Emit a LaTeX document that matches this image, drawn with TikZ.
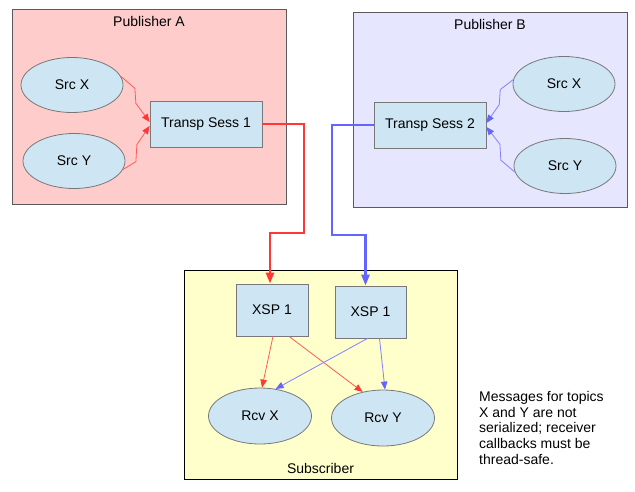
\documentclass[tikz,border=0pt]{standalone}
\usepackage{fontspec}
\setmainfont{Liberation Sans}
\usetikzlibrary{arrows.meta,shapes.geometric}
\definecolor{pubA}{RGB}{255,204,204}
\definecolor{pubB}{RGB}{230,230,255}
\definecolor{subfill}{RGB}{255,255,204}
\definecolor{nodefill}{RGB}{206,230,243}
\definecolor{edgegray}{RGB}{120,120,120}
\definecolor{grpgray}{RGB}{90,90,90}
\definecolor{lred}{RGB}{255,55,55}
\definecolor{lblue}{RGB}{100,100,255}
\definecolor{tred}{RGB}{255,90,90}
\definecolor{tblue}{RGB}{130,130,255}
\begin{document}
\begin{tikzpicture}[x=1pt,y=-1pt,
  font=\fontsize{14}{16}\selectfont,
  grp/.style={draw=grpgray, line width=1pt, inner sep=0pt},
  srcnode/.style={ellipse, draw=edgegray, fill=nodefill, line width=0.8pt,
    minimum width=102pt, minimum height=55pt, inner sep=0pt},
  boxnode/.style={rectangle, draw=edgegray, fill=nodefill, line width=0.8pt,
    inner sep=0pt},
  thinred/.style={draw=tred, line width=0.8pt, -{Triangle[length=8pt,width=6.5pt,color=lred]}},
  thinblue/.style={draw=tblue, line width=0.8pt, -{Triangle[length=8pt,width=6.5pt,color=lblue]}},
  thickred/.style={draw=lred, line width=2.5pt, -{Triangle[length=11pt,width=8pt]}},
  thickblue/.style={draw=lblue, line width=2.5pt, -{Triangle[length=11pt,width=8pt]}}]
\useasboundingbox (0,0) rectangle (635,491);
\fill[white] (0,0) rectangle (635,491);

% group frames
\node[grp, fill=pubA, minimum width=274pt, minimum height=195pt] (pa) at (149,106.5) {};
\node[grp, fill=pubB, minimum width=274pt, minimum height=195pt] (pb) at (490,109.5) {};
\node[grp, draw=black, fill=subfill, minimum width=273pt, minimum height=209pt] (sub) at (320.5,374.5) {};

\node (pal) at (149,21) {Publisher A};
\node (pbl) at (490,24) {Publisher B};
\node (subl) at (320.5,468) {Subscriber};

% publisher A
\node[srcnode] (sxa) at (72,85) {Src X};
\node[srcnode] (sya) at (74,161) {Src Y};
\node[boxnode, minimum width=112pt, minimum height=46pt] (tsa) at (206,124) {Transp Sess 1};

% publisher B
\node[srcnode] (sxb) at (564,84) {Src X};
\node[srcnode] (syb) at (565,166) {Src Y};
\node[boxnode, minimum width=112pt, minimum height=46pt] (tsb) at (430,125) {Transp Sess 2};

% subscriber
\node[boxnode, minimum width=72pt, minimum height=52pt] (xa) at (272,310) {XSP 1};
\node[boxnode, minimum width=71pt, minimum height=52pt] (xb) at (370.5,312) {XSP 1};
\node[srcnode, minimum width=103pt, minimum height=56pt] (rx) at (260,416) {Rcv X};
\node[srcnode, minimum width=103pt, minimum height=56pt] (ry) at (383,418) {Rcv Y};

% sources into transport sessions
\draw[thinred] (sxa.10) -- ++(14,12) -- ++(1,15) -- ([yshift=2pt]tsa.west);
\draw[thinred] (sya.-10) -- ++(13,-8) -- ++(1,-17) -- ([yshift=-2pt]tsa.west);
\draw[thinblue] (sxb.175) -- ++(-13,10) -- ++(-1,15) -- ([yshift=2pt]tsb.east);
\draw[thinblue] (syb.-173) -- ++(-14,-12) -- ++(-1,-16) -- ([yshift=-2pt]tsb.east);

% transport sessions to subscriber
\coordinate (rturn) at (304,233);
\coordinate (bturn) at (332,235);
\draw[thickred] (tsa.east) -| (rturn) -| ([xshift=-2pt]xa.north);
\draw[thickblue] (tsb.west) -| (bturn) -| ([xshift=-5pt]xb.north);

% delivery to receivers
\draw[thinred] ([xshift=1pt]xa.south) -- ([xshift=2pt]rx.north);
\draw[thinred] ([xshift=17pt]xa.south) -- (ry.128);
\draw[thinblue] ([xshift=-3pt]xb.south) -- (rx.60);
\draw[thinblue] ([xshift=9pt]xb.south) -- ([xshift=2pt]ry.north);

% note
\node[anchor=north west, align=left, inner sep=0pt,
  font=\fontsize{14}{15.7}\selectfont] (note) at (479,391)
  {Messages for topics\\X and Y are not\\serialized; receiver\\callbacks must be\\thread-safe.};
\end{tikzpicture}
\end{document}
